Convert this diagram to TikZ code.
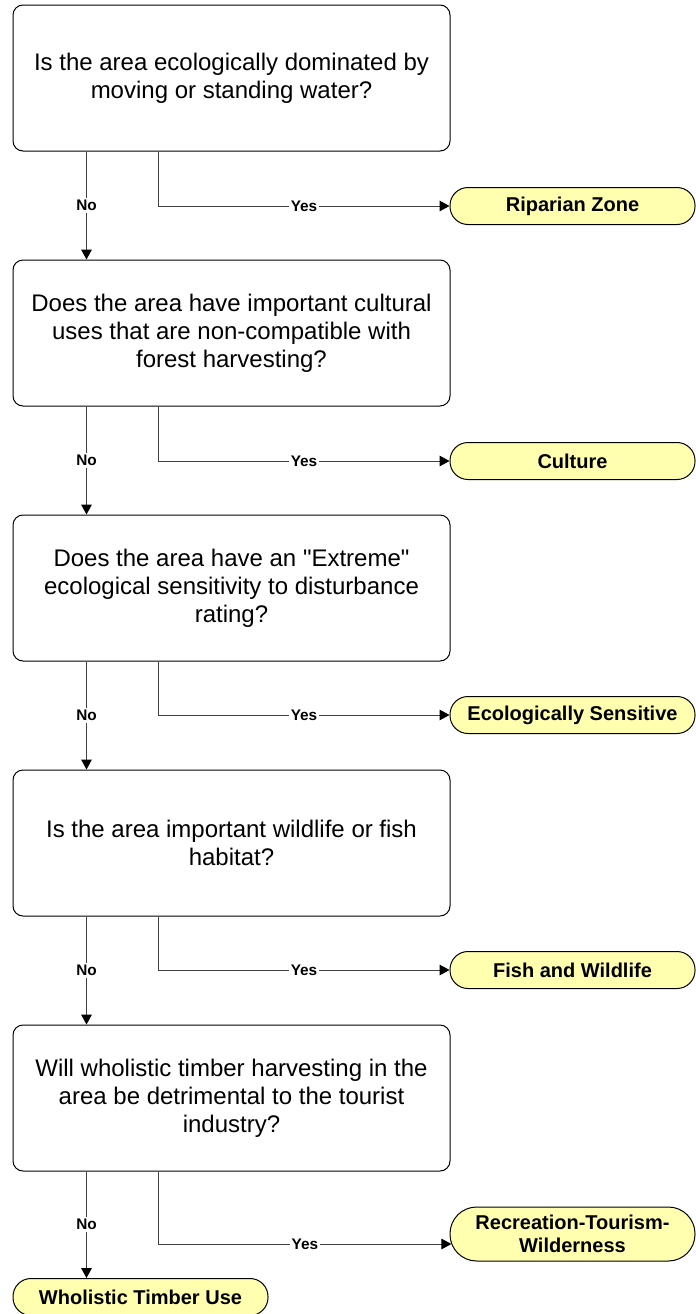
\documentclass[tikz,border=0pt]{standalone}
\usepackage{fontspec}
\setmainfont{Liberation Sans}[Ligatures=TeXOff]
\usetikzlibrary{arrows.meta,calc}

\tikzset{every picture/.style={line width=0.75pt}}

\begin{document}
\begin{tikzpicture}[x=0.75pt,y=0.75pt,yscale=-1,xscale=1,
  question/.style={draw={rgb, 255:red, 0; green, 0; blue, 0 }, rounded corners=7.5pt, minimum width=327.75pt, minimum height=109.5pt, inner sep=0pt, align=center, font=\fontsize{18}{21}\selectfont},
  outcome/.style={draw={rgb, 255:red, 0; green, 0; blue, 0 }, fill={rgb, 255:red, 255; green, 255; blue, 175 }, rounded corners=13.5pt, minimum width=183.75pt, minimum height=27.75pt, inner sep=0pt, align=center, font=\bfseries\fontsize{15}{17}\selectfont},
  answer/.style={fill=white, inner sep=1.5pt, font=\bfseries\fontsize{11.5}{13}\selectfont},
  flow/.style={draw={rgb, 255:red, 64; green, 64; blue, 64 }, line width=0.75, -{Triangle[length=7.5pt,width=8pt,color=black]}}]
%uncomment if require: \path (0,1314); %set diagram left start at 0, and has height of 1314
\useasboundingbox (0,0) rectangle (696,1314);

%Rounded Rect [id:dp1] 
\node[question] (water) at (231.5,78) {Is the area ecologically dominated by\\moving or standing water?};
%Rounded Rect [id:dp2] 
\node[question] (culture) at (231.5,333) {Does the area have important cultural\\uses that are non-compatible with\\forest harvesting?};
%Rounded Rect [id:dp3] 
\node[question] (extreme) at (231.5,588) {Does the area have an "Extreme"\\ecological sensitivity to disturbance\\rating?};
%Rounded Rect [id:dp4] 
\node[question] (habitat) at (231.5,843) {Is the area important wildlife or fish\\habitat?};
%Rounded Rect [id:dp5] 
\node[question] (tourist) at (231.5,1098) {Will wholistic timber harvesting in the\\area be detrimental to the tourist\\industry?};

%Terminators
\node[outcome] (riparian) at (572.5,206) {Riparian Zone};
\node[outcome] (cultureuse) at (572.5,461) {Culture};
\node[outcome] (sensitive) at (572.5,715) {Ecologically Sensitive};
\node[outcome] (fish) at (572.5,970) {Fish and Wildlife};
\node[outcome, minimum height=40.5pt, rounded corners=20pt] (recreation) at (572.5,1234) {Recreation-Tourism-\\Wilderness};
\node[outcome, minimum width=191.25pt] (timber) at (140.5,1297) {Wholistic Timber Use};

%Straight Lines (No) 
\draw[flow] ($(water.south west)+(74,0)$) -- node[answer] {No} ($(culture.north west)+(74,0)$);
\draw[flow] ($(culture.south west)+(74,0)$) -- node[answer] {No} ($(extreme.north west)+(74,0)$);
\draw[flow] ($(extreme.south west)+(74,0)$) -- node[answer] {No} ($(habitat.north west)+(74,0)$);
\draw[flow] ($(habitat.south west)+(74,0)$) -- node[answer] {No} ($(tourist.north west)+(74,0)$);
\coordinate (lastno) at ($(tourist.south west)+(74,0)$);
\draw[flow] (lastno) -- node[answer] {No} (lastno |- timber.north);

%Straight Lines (Yes) 
\draw[flow] ($(water.south west)+(146,0)$) |- node[answer, pos=0.75] {Yes} (riparian.west);
\draw[flow] ($(culture.south west)+(146,0)$) |- node[answer, pos=0.75] {Yes} (cultureuse.west);
\draw[flow] ($(extreme.south west)+(146,0)$) |- node[answer, pos=0.75] {Yes} (sensitive.west);
\draw[flow] ($(habitat.south west)+(146,0)$) |- node[answer, pos=0.75] {Yes} (fish.west);
\draw[flow] ($(tourist.south west)+(146,0)$) |- node[answer, pos=0.75] {Yes} ([xshift=1.4pt,yshift=7.5pt]recreation.west);

\end{tikzpicture}
\end{document}
